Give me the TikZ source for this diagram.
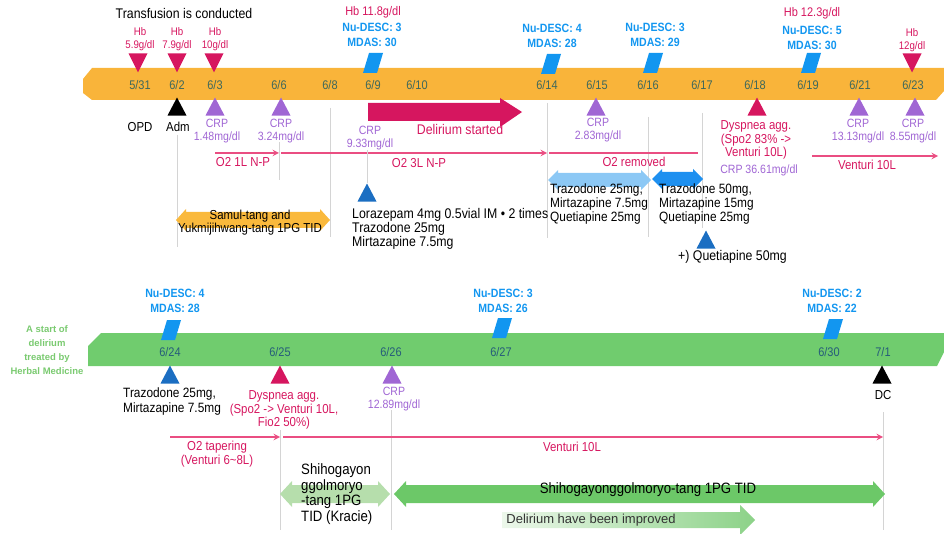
\documentclass[tikz,border=0pt]{standalone}
\usepackage{fontspec}
\setmainfont{Liberation Sans}[FakeStretch=0.88]
\newfontfamily\plainfont{Liberation Sans}
\usepackage{tikz}
\usetikzlibrary{arrows,shapes.geometric,positioning}
\definecolor{tlorange}{RGB}{249,180,58}
\definecolor{tlgreen}{RGB}{112,204,110}
\definecolor{datetop}{RGB}{62,104,92}
\definecolor{datebot}{RGB}{38,92,122}
\definecolor{hbred}{RGB}{214,22,95}
\definecolor{descblue}{RGB}{18,150,240}
\definecolor{crppurple}{RGB}{160,102,212}
\definecolor{medblue}{RGB}{27,110,194}
\definecolor{o2pink}{RGB}{234,78,130}
\definecolor{guidegray}{RGB}{212,212,212}
\definecolor{drugblue1}{RGB}{140,200,245}
\definecolor{drugblue2}{RGB}{30,144,240}
\definecolor{samulorange}{RGB}{250,185,60}
\definecolor{herbgreen1}{RGB}{182,222,172}
\definecolor{herbgreen2}{RGB}{108,200,104}
\definecolor{herbgreen3}{RGB}{236,247,234}
\definecolor{herbgreen4}{RGB}{140,210,136}
\definecolor{herbtext}{RGB}{122,202,112}
\tikzstyle{datelbl} = [font=\fontsize{12.5}{13}\selectfont, inner sep=0pt]
\tikzstyle{hblbl} = [font=\fontsize{11}{12.5}\selectfont, text=hbred, align=center, inner sep=0pt]
\tikzstyle{desclbl} = [font=\bfseries\fontsize{12}{15}\selectfont, text=descblue, align=center, inner sep=0pt]
\tikzstyle{crplbl} = [font=\fontsize{12}{12.5}\selectfont, text=crppurple, align=center, inner sep=0pt]
\tikzstyle{redlbl} = [font=\fontsize{13}{13.5}\selectfont, text=hbred, align=center, inner sep=0pt]
\tikzstyle{notelbl} = [font=\fontsize{14}{14}\selectfont, align=left, inner sep=0pt]
\tikzstyle{downmark} = [isosceles triangle, isosceles triangle stretches, shape border rotate=270, minimum width=19pt, minimum height=19pt, inner sep=0pt, anchor=apex]
\tikzstyle{upmark} = [isosceles triangle, isosceles triangle stretches, shape border rotate=90, minimum width=19pt, minimum height=18pt, inner sep=0pt, anchor=apex]
\tikzstyle{descmark} = [fill=descblue]
\tikzstyle{guide} = [line width=0.8pt, color=guidegray]
\tikzstyle{o2arrow} = [line width=1.8pt, ->, >=stealth, color=o2pink]
\tikzstyle{o2line} = [line width=1.8pt, color=o2pink]

\begin{document}
\begin{tikzpicture}[x=1pt, y=-1pt]
\useasboundingbox (0,0) rectangle (944,534);

% Bands
\fill[tlorange] (83,79) -- (92,68) -- (944,68) -- (944,91) -- (936,100) -- (92,100) -- (83,93) -- cycle;
\fill[tlgreen] (88,346) -- (101,333) -- (944,333) -- (944,352) -- (937,366) -- (88,366) -- cycle;

% Dates
\foreach \x/\m/\dd in {140/5/31, 177/6/2, 215/6/3, 279/6/6, 330/6/8, 373/6/9, 417/6/10, 547/6/14, 597/6/15, 648/6/16, 702/6/17, 755/6/18, 808/6/19, 860/6/21, 913/6/23}
  \node[datelbl, text=datetop] (d\m\dd) at (\x,85) {\m/\dd};
\foreach \x/\m/\dd in {170/6/24, 280/6/25, 391/6/26, 501/6/27, 829/6/30, 883/7/1}
  \node[datelbl, text=datebot] (d\m\dd) at (\x,352) {\m/\dd};

% Guide lines
\foreach \n/\a/\b in {d62/135/247, d66/142/180, d68/108/237, d614/103/238, d616/117/237, d617/113/228, d625/430/530, d626/410/530, d71/412/530}
  \draw[guide] (\n |- 0,\a) -- (\n |- 0,\b);

% Nu-DESC marks
\foreach \n/\x/\y in {desc69/373/63, desc614/551/64, desc616/653/63, desc619/811/63, desc624/171/330, desc627/502/328, desc630/833/329} {
  \coordinate (\n) at (\x,\y);
  \fill[descmark] (\n) ++(-10,10) -- ++(14,0) -- ++(6,-20) -- ++(-14,0) -- cycle;
}

% Top: transfusion and scores
\node[notelbl] (transf) at (184,14) {Transfusion is conducted};
\node[downmark, fill=hbred] (hb531) at (138,73) {};
\node[downmark, fill=hbred] (hb62) at (177,73) {};
\node[downmark, fill=hbred] (hb63) at (214,73) {};
\node[downmark, fill=hbred] (hb623) at (912,73) {};
\node[hblbl] (hbt531) at (140,39) {Hb\\5.9g/dl};
\node[hblbl] (hbt62) at (177,39) {Hb\\7.9g/dl};
\node[hblbl] (hbt63) at (215,39) {Hb\\10g/dl};
\node[hblbl] (hbt623) at (912,40) {Hb\\12g/dl};
\node[hblbl, font=\fontsize{12.5}{13}\selectfont] (hbt69) at (373,12) {Hb 11.8g/dl};
\node[hblbl, font=\fontsize{12.5}{13}\selectfont] (hbt619) at (812,13) {Hb 12.3g/dl};
\node[desclbl] (nd69) at (372,35) {Nu-DESC: 3\\MDAS: 30};
\node[desclbl] (nd614) at (552,36) {Nu-DESC: 4\\MDAS: 28};
\node[desclbl] (nd616) at (655,35) {Nu-DESC: 3\\MDAS: 29};
\node[desclbl] (nd619) at (812,38) {Nu-DESC: 5\\MDAS: 30};

% Top: below the band
\node[upmark, fill=black] (adm) at (177,97) {};
\node[upmark, fill=crppurple] (crp63) at (215,97) {};
\node[upmark, fill=crppurple] (crp66) at (281,97) {};
\node[upmark, fill=crppurple] (crp615) at (596,97) {};
\node[upmark, fill=hbred] (dysp618) at (757,97) {};
\node[upmark, fill=crppurple] (crp621) at (859,97) {};
\node[upmark, fill=crppurple] (crp623) at (915,97) {};
\node[font=\fontsize{13}{13}\selectfont, inner sep=0pt] (opd) at (140,127) {OPD};
\node[font=\fontsize{13}{13}\selectfont, inner sep=0pt] (admt) at (178,127) {Adm};
\node[crplbl] (crpt63) at (217,131) {CRP\\1.48mg/dl};
\node[crplbl] (crpt66) at (281,131) {CRP\\3.24mg/dl};
\node[crplbl] (crpt69) at (370,138) {CRP\\9.33mg/dl};
\node[crplbl] (crpt615) at (598,130) {CRP\\2.83mg/dl};
\node[crplbl] (crpt621) at (858,131) {CRP\\13.13mg/dl};
\node[crplbl] (crpt623) at (913,131) {CRP\\8.55mg/dl};
\node[redlbl] (dyspt618) at (756,140) {Dyspnea agg.\\(Spo2 83\% ->\\Venturi 10L)};
\node[crplbl] (crpt618) at (759,170) {CRP 36.61mg/dl};

% Delirium started
\fill[hbred] (368,103) -- (500,103) -- (500,98) -- (522,112) -- (500,127) -- (500,121) -- (368,121) -- cycle;
\node[font=\fontsize{14}{14}\selectfont, text=hbred, inner sep=0pt] (delstart) at (460,129) {Delirium started};

% Oxygen
\draw[o2arrow] (d63 |- 0,153) -- (d66 |- 0,153);
\draw[o2arrow] ([xshift=2pt]d66 |- 0,153) -- (d614 |- 0,153);
\draw[o2line] ([xshift=2pt]d614 |- 0,153) -- ([xshift=-4pt]d617 |- 0,153);
\coordinate (v10end) at (938,156);
\draw[o2arrow] ([xshift=4pt]d619 |- 0,156) -- (v10end);
\node[redlbl] (o2a) at (243,162) {O2 1L N-P};
\node[redlbl] (o2b) at (419,163) {O2 3L N-P};
\node[redlbl] (o2c) at (634,162) {O2 removed};
\node[redlbl] (o2d) at (867,165) {Venturi 10L};

% Medication
\fill[samulorange] (176,220) -- (186,209) -- (186,212) -- (320,212) -- (320,209) -- (330,220) -- (320,231) -- (320,228) -- (186,228) -- (186,231) -- cycle;
\node[font=\fontsize{13}{12}\selectfont, align=center, inner sep=0pt] (samul) at (250,223) {Samul-tang and\\Yukmijihwang-tang 1PG TID};

\node[upmark, fill=medblue] (lora) at (367,183) {};
\draw[guide] (lora.apex |- crpt69.south) -- (lora.apex);
\node[notelbl, anchor=west] (lorat) at (352,229) {Lorazepam 4mg 0.5vial IM • 2 times\\Trazodone 25mg\\Mirtazapine 7.5mg};

\fill[drugblue1] (548,180) -- (558,170) -- (558,173) -- (641,173) -- (641,170) -- (651,180) -- (641,190) -- (641,187) -- (558,187) -- (558,190) -- cycle;
\fill[drugblue2] (652,179) -- (662,169) -- (662,172) -- (693,172) -- (693,169) -- (703,179) -- (693,189) -- (693,186) -- (662,186) -- (662,189) -- cycle;
\node[notelbl, font=\fontsize{13.5}{14}\selectfont, anchor=west] (drug614) at (550,204) {Trazodone 25mg,\\Mirtazapine 7.5mg\\Quetiapine 25mg};
\node[notelbl, font=\fontsize{13.5}{14}\selectfont, anchor=west] (drug616) at (659,204) {Trazodone 50mg,\\Mirtazapine 15mg\\Quetiapine 25mg};
\node[upmark, fill=medblue] (quet) at (706,230) {};
\node[notelbl, anchor=west] (quett) at (678,257) {+) Quetiapine 50mg};

% Bottom: scores
\node[desclbl] (nd624) at (175,301) {Nu-DESC: 4\\MDAS: 28};
\node[desclbl] (nd627) at (503,301) {Nu-DESC: 3\\MDAS: 26};
\node[desclbl] (nd630) at (832,301) {Nu-DESC: 2\\MDAS: 22};
\node[font=\plainfont\bfseries\fontsize{9.5}{14}\selectfont, text=herbtext, align=center, inner sep=0pt] (herbal) at (47,350) {A start of\\delirium\\treated by\\Herbal Medicine};

% Bottom: below the band
\node[upmark, fill=medblue] (traz624) at (170,365) {};
\node[upmark, fill=hbred] (dysp625) at (280,365) {};
\node[upmark, fill=crppurple] (crp626) at (392,365) {};
\node[upmark, fill=black] (dc) at (882,365) {};
\node[notelbl, font=\fontsize{13.5}{15}\selectfont, anchor=west] (trazt) at (123,402) {Trazodone 25mg,\\Mirtazapine 7.5mg};
\node[redlbl] (dyspt625) at (284,410) {Dyspnea agg.\\(Spo2 -> Venturi 10L,\\Fio2 50\%)};
\node[crplbl] (crpt626) at (394,399) {CRP\\12.89mg/dl};
\node[font=\fontsize{13}{13}\selectfont, inner sep=0pt] (dct) at (883,395) {DC};

\draw[o2arrow] (d624 |- 0,437) -- (d625 |- 0,437);
\draw[o2arrow] ([xshift=3pt]d625 |- 0,437) -- (d71 |- 0,437);
\node[redlbl, font=\fontsize{13}{14}\selectfont] (o2e) at (217,454) {O2 tapering\\(Venturi 6\textasciitilde8L)};
\node[redlbl] (o2f) at (572,447) {Venturi 10L};

% Herbal medicine
\fill[herbgreen1] (280,494) -- (292,481) -- (292,485) -- (378,485) -- (378,481) -- (390,494) -- (378,507) -- (378,503) -- (292,503) -- (292,507) -- cycle;
\fill[herbgreen2] (394,494) -- (406,481) -- (406,485) -- (873,485) -- (873,481) -- (885,494) -- (873,507) -- (873,503) -- (406,503) -- (406,507) -- cycle;
\shade[left color=herbgreen3, right color=herbgreen4] (502,512) -- (740,512) -- (740,505) -- (755,520) -- (740,535) -- (740,528) -- (502,528) -- cycle;
\node[notelbl, font=\fontsize{15}{15.6}\selectfont, anchor=west] (kracie) at (301,494) {Shihogayon\\ggolmoryo\\-tang 1PG\\TID (Kracie)};
\node[font=\fontsize{15}{15}\selectfont, inner sep=0pt] (shiho) at (648,490) {Shihogayonggolmoryo-tang 1PG TID};
\node[font=\plainfont\fontsize{13}{13}\selectfont, text=black!80, inner sep=0pt] (improved) at (591,520) {Delirium have been improved};
\end{tikzpicture}
\end{document}
